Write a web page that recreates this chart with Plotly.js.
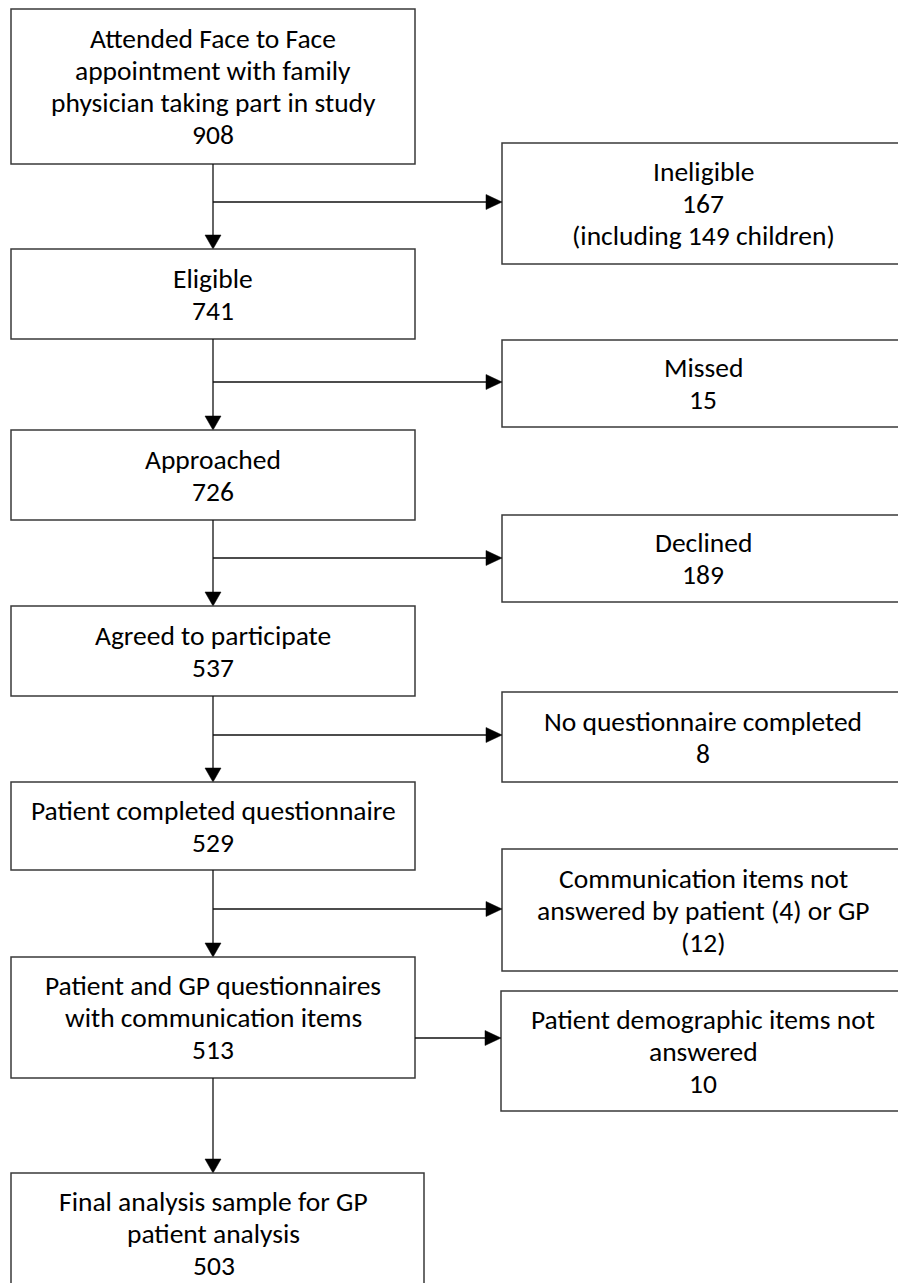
<!DOCTYPE html>
<html>
<head>
<meta charset="utf-8">
<script src="https://cdn.plot.ly/plotly-3.0.1.min.js"></script>
<style>
  html, body { margin: 0; padding: 0; background: #ffffff; }
  #chart { width: 898px; height: 1283px; }
</style>
</head>
<body>
<div id="chart"></div>
<script>
// ---------- data ----------
const mainLabels = [
  ["Attended Face to Face", "appointment with family", "physician taking part in study"],
  ["Eligible"],
  ["Approached"],
  ["Agreed to participate"],
  ["Patient completed questionnaire"],
  ["Patient and GP questionnaires", "with communication items"],
  ["Final analysis sample for GP", "patient analysis"]
];
const mainCounts = [908, 741, 726, 537, 529, 513, 503];

const exclLabels = [
  ["Ineligible"],
  ["Missed"],
  ["Declined"],
  ["No questionnaire completed"],
  ["Communication items not", "answered by patient (4) or GP", "(12)"],
  ["Patient demographic items not", "answered"]
];
const exclCounts = [167, 15, 189, 8, null, 10];
const exclNotes = ["(including 149 children)", "", "", "", "", ""];

// ---------- layout geometry (pixels in a 898 x 1283 frame) ----------
const mainX = [11, 415];
const mainBoxes = [[9, 164], [249, 339], [430, 520], [606, 696], [782, 870], [957, 1078], [1173, 1293]];
const mainBoxRight = [415, 415, 415, 415, 415, 415, 424];
const stemX = 213;
const exclX = [502, 910];
const exclBoxes = [[143, 264], [340, 427], [515, 602], [692, 782], [849, 971], [991, 1111]];
const exclArrowY = [202, 382, 558, 735, 909, 1038];
const exclBranchFrom = [stemX, stemX, stemX, stemX, stemX, 415];
const lineGap = 32;
const FONT = "Carlito, Calibri, Lato, 'Open Sans', sans-serif";
const boxColor = "#3a3a3a";
const lineColor = "#111111";

const shapes = [];
const annotations = [];

function addBox(x0, x1, y0, y1) {
  shapes.push({type: "rect", xref: "x", yref: "y", x0: x0, x1: x1, y0: y0, y1: y1,
    line: {color: boxColor, width: 1.5}, fillcolor: "rgba(0,0,0,0)"});
}
function addLine(x0, y0, x1, y1) {
  shapes.push({type: "line", xref: "x", yref: "y", x0: x0, y0: y0, x1: x1, y1: y1,
    line: {color: lineColor, width: 1.3}});
}
function addDownHead(x, yTip) {
  shapes.push({type: "path", xref: "x", yref: "y",
    path: `M ${x - 8} ${yTip - 14} L ${x + 8} ${yTip - 14} L ${x} ${yTip} Z`,
    fillcolor: "#000", line: {color: "#000", width: 0.5}});
}
function addRightHead(xTip, y) {
  shapes.push({type: "path", xref: "x", yref: "y",
    path: `M ${xTip - 16} ${y - 7.5} L ${xTip - 16} ${y + 7.5} L ${xTip} ${y} Z`,
    fillcolor: "#000", line: {color: "#000", width: 0.5}});
}
function addText(lines, cx, y0, y1) {
  const cy = (y0 + y1) / 2;
  const n = lines.length;
  lines.forEach((t, i) => {
    annotations.push({xref: "x", yref: "y", x: cx, y: cy + (i - (n - 1) / 2) * lineGap,
      text: t, showarrow: false, xanchor: "center", yanchor: "middle",
      font: {family: FONT, size: 27.5, color: "#000"}});
  });
}

// main column
mainBoxes.forEach((b, i) => {
  addBox(mainX[0], mainBoxRight[i], b[0], b[1]);
  const lines = mainLabels[i].concat([String(mainCounts[i])]);
  addText(lines, (mainX[0] + mainBoxRight[i]) / 2 - (i === 6 ? 4 : 0), b[0], b[1]);
  if (i < mainBoxes.length - 1) {
    const next = mainBoxes[i + 1];
    addLine(stemX, b[1], stemX, next[0] - 12);
    addDownHead(stemX, next[0]);
  }
});

// exclusion column
exclBoxes.forEach((b, i) => {
  const x0 = i === 5 ? exclX[0] - 1 : exclX[0];
  addBox(x0, exclX[1], b[0], b[1]);
  let lines = exclLabels[i].slice();
  if (exclCounts[i] !== null) lines.push(String(exclCounts[i]));
  if (exclNotes[i]) lines.push(exclNotes[i]);
  addText(lines, 703, b[0], b[1]);
  addLine(exclBranchFrom[i], exclArrowY[i], x0 - 14, exclArrowY[i]);
  addRightHead(x0, exclArrowY[i]);
});

const layout = {
  width: 898, height: 1283,
  margin: {l: 0, r: 0, t: 0, b: 0, pad: 0},
  paper_bgcolor: "#ffffff", plot_bgcolor: "#ffffff",
  xaxis: {range: [0, 898], visible: false, fixedrange: true},
  yaxis: {range: [1283, 0], visible: false, fixedrange: true},
  showlegend: false,
  shapes: shapes,
  annotations: annotations
};

Plotly.newPlot("chart", [{x: [], y: [], type: "scatter", mode: "markers", hoverinfo: "skip"}], layout,
  {staticPlot: true, displayModeBar: false});
</script>
</body>
</html>
